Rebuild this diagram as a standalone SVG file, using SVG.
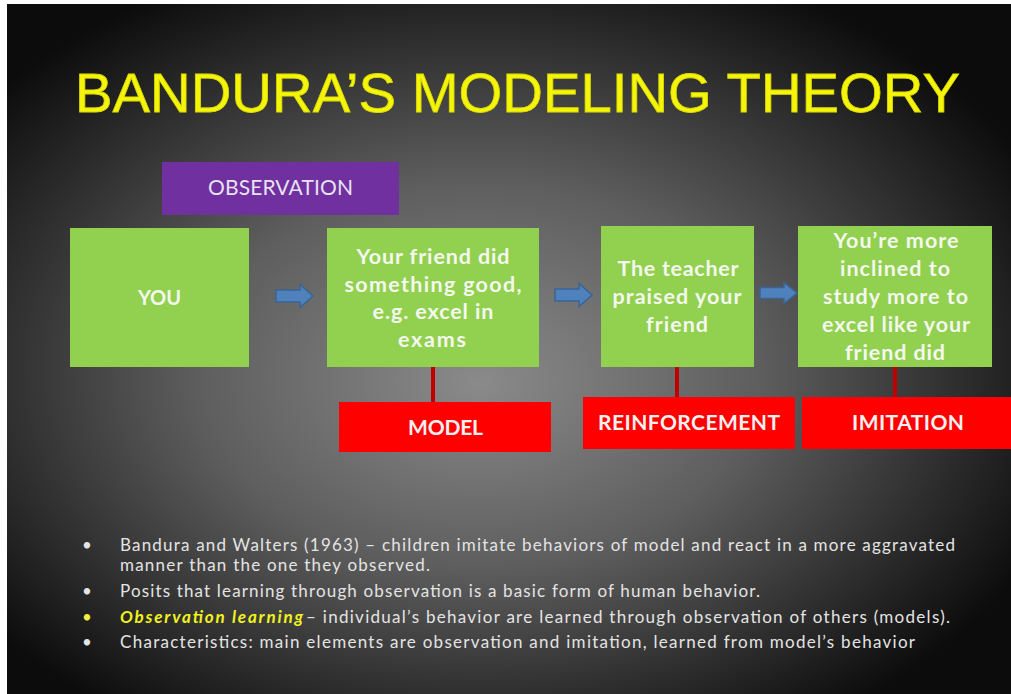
<svg xmlns="http://www.w3.org/2000/svg" xmlns:xlink="http://www.w3.org/1999/xlink" width="1011" height="694" viewBox="0 0 1011 694">
<defs>
<radialGradient id="bg" cx="0.47" cy="0.52" r="0.62" fx="0.47" fy="0.55">
<stop offset="0" stop-color="#8a8a8a"/>
<stop offset="0.45" stop-color="#5e5e5e"/>
<stop offset="0.8" stop-color="#2a2a2a"/>
<stop offset="1" stop-color="#0c0c0c"/>
</radialGradient>
<path id="barrow" d="M0,-6 H24 V-11.5 L37,0 L24,11.5 V6 H0 Z"/>
<style>
.green{fill:#92D050;}
.red{fill:#FF0000;}
.purple{fill:#7030A0;}
.gt{font-family:Lato,"Open Sans",sans-serif;font-weight:bold;font-size:21.5px;fill:#F4F8EE;text-anchor:middle;}
.rt{font-family:Lato,"Open Sans",sans-serif;font-weight:bold;font-size:21px;fill:#F6F0F0;text-anchor:middle;}
.ot{font-family:Lato,"Open Sans",sans-serif;font-size:21px;fill:#E8E2F2;text-anchor:middle;}
.bt{font-family:Lato,"Open Sans",sans-serif;font-size:17px;fill:#E4E4E4;}
.arrow{fill:#4F81BD;stroke:#3A6494;stroke-width:1.5;}
.link{stroke:#C00000;stroke-width:4;fill:none;}
</style>
</defs>
<rect x="0" y="0" width="1011" height="694" fill="#ffffff"/>
<rect x="7" y="4" width="1004" height="690" fill="url(#bg)"/>
<text x="75" y="112" font-family="'Liberation Sans',Arial,sans-serif" font-size="56" fill="#F5F50A" stroke="#D8D800" stroke-width="0.8" textLength="885" lengthAdjust="spacingAndGlyphs">BANDURA’S MODELING THEORY</text>

<g id="observation">
<rect class="purple" x="162" y="162" width="237" height="53"/>
<text class="ot" x="280.5" y="195" textLength="145">OBSERVATION</text>
</g>

<g id="you">
<rect class="green" x="70" y="228" width="179" height="139"/>
<text class="gt" x="159.5" y="305" style="font-size:20px">YOU</text>
</g>

<g id="friend">
<rect class="green" x="327" y="228" width="212" height="139"/>
<text class="gt" x="433" y="264" textLength="153">Your friend did</text>
<text class="gt" x="433" y="291.5" textLength="177">something good,</text>
<text class="gt" x="433" y="319" textLength="121">e.g. excel in</text>
<text class="gt" x="432" y="346.5" textLength="68">exams</text>
</g>

<g id="teacher">
<rect class="green" x="601" y="226" width="153" height="141"/>
<text class="gt" x="678" y="276" textLength="121">The teacher</text>
<text class="gt" x="677" y="304" textLength="129">praised your</text>
<text class="gt" x="677" y="332" textLength="62">friend</text>
</g>

<g id="inclined">
<rect class="green" x="798" y="226" width="194" height="141"/>
<text class="gt" x="896" y="248" textLength="125">You’re more</text>
<text class="gt" x="895" y="276" textLength="110">inclined to</text>
<text class="gt" x="895.5" y="304" textLength="145">study more to</text>
<text class="gt" x="896" y="332" textLength="148">excel like your</text>
<text class="gt" x="895" y="360" textLength="100">friend did</text>
</g>

<g id="model">
<rect class="red" x="339" y="402" width="212" height="50"/>
<text class="rt" x="445.5" y="435" textLength="75">MODEL</text>
</g>

<g id="reinforcement">
<rect class="red" x="583" y="397" width="212" height="52"/>
<text class="rt" x="689" y="430" textLength="182">REINFORCEMENT</text>
</g>

<g id="imitation">
<rect class="red" x="802" y="397" width="209" height="52"/>
<text class="rt" x="908" y="430" textLength="112">IMITATION</text>
</g>

<g id="connectors">
<use href="#barrow" xlink:href="#barrow" class="arrow" transform="translate(276,296)"/>
<use href="#barrow" xlink:href="#barrow" class="arrow" transform="translate(555,295)"/>
<use href="#barrow" xlink:href="#barrow" class="arrow" transform="translate(760,293) scale(1,0.92)"/>
<line class="link" x1="433" y1="367" x2="433" y2="402"/>
<line class="link" x1="677" y1="367" x2="677" y2="397"/>
<line class="link" x1="895" y1="367" x2="895" y2="397"/>
</g>

<g id="bullets">
<text class="bt" x="82" y="551">•</text>
<text class="bt" x="120" y="551" textLength="835">Bandura and Walters (1963) – children imitate behaviors of model and react in a more aggravated</text>
<text class="bt" x="120" y="571" textLength="310">manner than the one they observed.</text>
<text class="bt" x="82" y="597">•</text>
<text class="bt" x="120" y="597" textLength="640">Posits that learning through observation is a basic form of human behavior.</text>
<text class="bt" x="82" y="623" style="fill:#F0F040">•</text>
<text class="bt" x="120" y="623" style="fill:#F2F21E;font-weight:bold;font-style:italic" textLength="183">Observation learning</text>
<text class="bt" x="306" y="623" textLength="644">– individual’s behavior are learned through observation of others (models).</text>
<text class="bt" x="82" y="648">•</text>
<text class="bt" x="120" y="648" textLength="795">Characteristics: main elements are observation and imitation, learned from model’s behavior</text>
</g>
</svg>
